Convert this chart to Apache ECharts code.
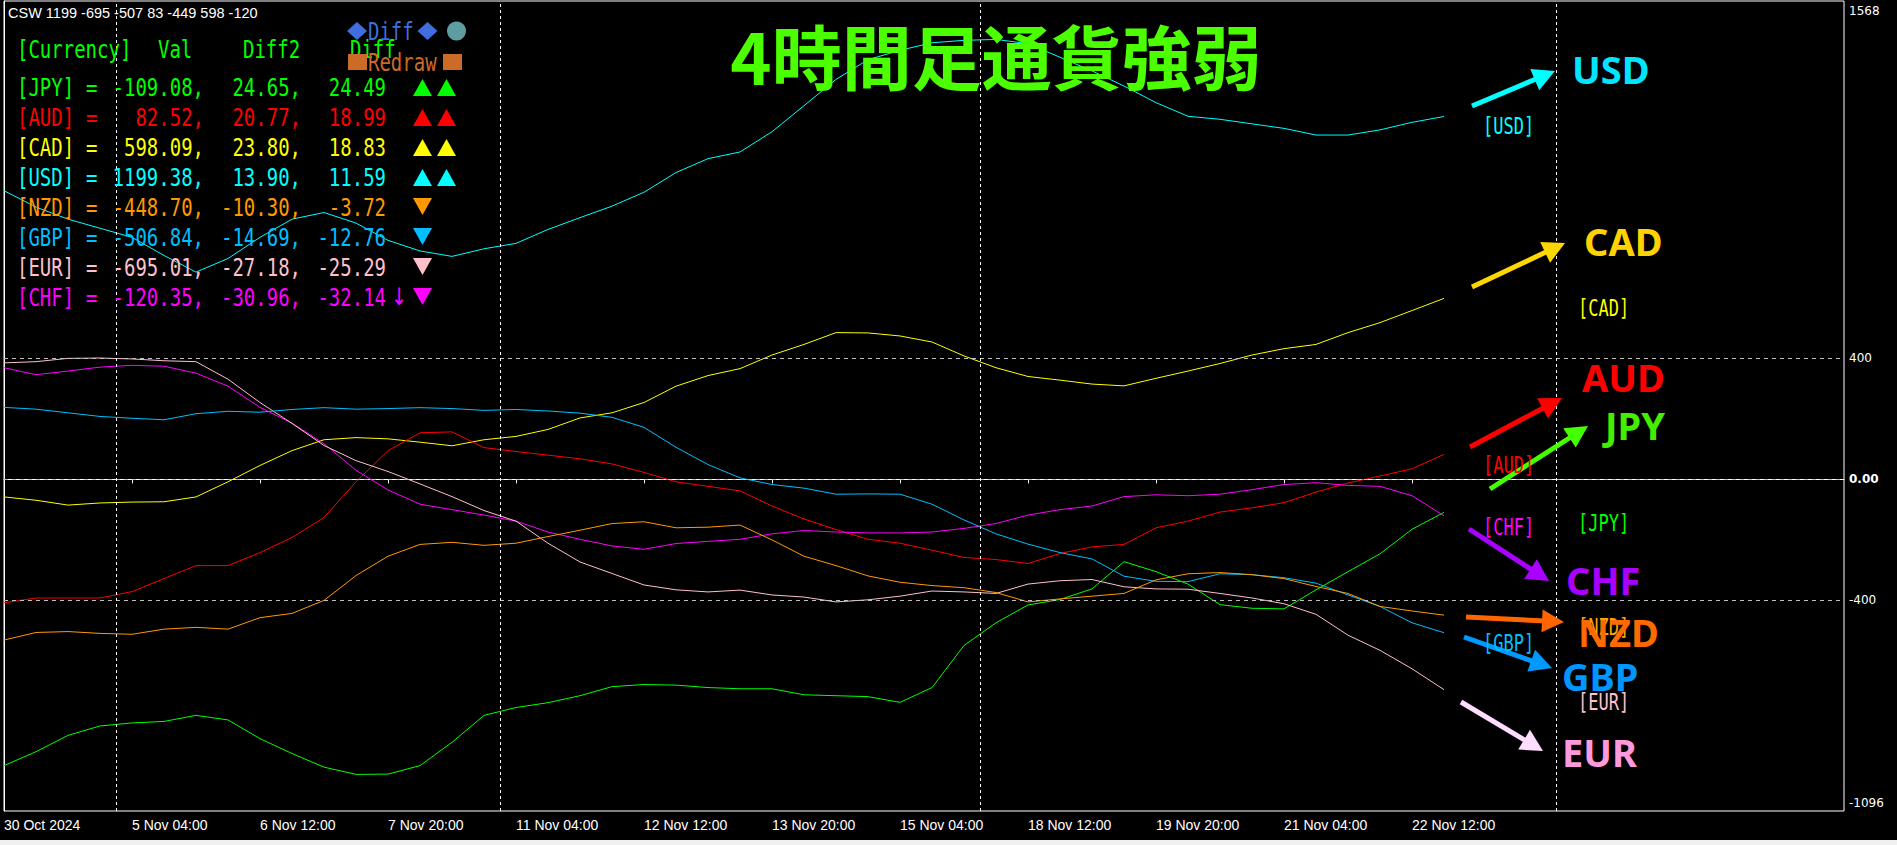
<!DOCTYPE html>
<html>
<head>
<meta charset="utf-8">
<title>4時間足通貨強弱</title>
<script src="https://cdn.jsdelivr.net/npm/echarts@6/dist/echarts.min.js"></script>
<style>
  html, body { margin: 0; padding: 0; background: #000; }
  #myChart { width: 1897px; height: 845px; }
</style>
</head>
<body>
<div id="myChart"></div>
<script>
// x軸ラベル (H4 足 8本ごと)
const tickLabels = ['30 Oct 2024', '5 Nov 04:00', '6 Nov 12:00', '7 Nov 20:00', '11 Nov 04:00', '12 Nov 12:00',
  '13 Nov 20:00', '15 Nov 04:00', '18 Nov 12:00', '19 Nov 20:00', '21 Nov 04:00', '22 Nov 12:00']
const yLabels = [1568, 400, 0, -400, -1096]
const barStep = 2 // 2本ごとに読み取った値

// 各通貨の強弱ライン
const usd = [954, 900, 860, 830, 800, 740, 685, 730, 800, 860, 882, 847, 790, 755, 737, 762, 780, 826, 865, 903,
  949, 1014, 1060, 1082, 1149, 1235, 1322, 1387, 1418, 1443, 1451, 1454, 1440, 1395, 1350, 1300, 1245, 1200,
  1190, 1175, 1160, 1138, 1138, 1155, 1180, 1199.38]
const cad = [-58, -69, -85, -78, -75, -74, -58, -8, 46, 95, 131, 138, 134, 123, 111, 131, 142, 165, 203, 220,
  254, 308, 343, 366, 411, 446, 485, 484, 474, 454, 408, 369, 340, 328, 315, 309, 334, 358, 383, 411, 432,
  446, 485, 518, 558, 598.09]
const aud = [-408, -392, -392, -392, -371, -328, -285, -285, -242, -192, -126, -8, 95, 154, 157, 105, 92, 80,
  68, 51, 23, -8, -23, -38, -88, -131, -166, -198, -211, -234, -258, -265, -278, -245, -223, -215, -160,
  -138, -108, -94, -77, -42, -12, 11, 35, 82.52]
const jpy = [-946, -900, -846, -815, -805, -800, -780, -795, -857, -906, -951, -975, -974, -946, -869, -780,
  -754, -738, -715, -685, -678, -680, -688, -692, -692, -712, -715, -718, -737, -688, -549, -474, -415,
  -397, -362, -272, -305, -346, -414, -426, -428, -365, -305, -246, -165, -109.08]
const chf = [369, 346, 358, 371, 377, 374, 351, 308, 238, 186, 118, 30, -35, -82, -100, -118, -138, -174, -198,
  -220, -231, -212, -205, -198, -180, -169, -174, -177, -177, -174, -162, -146, -118, -100, -88, -57, -51,
  -54, -49, -34, -17, -11, -20, -23, -54, -120.35]
const eur = [385, 389, 400, 401, 398, 392, 389, 331, 254, 185, 112, 62, 26, -15, -57, -103, -138, -211, -273,
  -311, -349, -365, -372, -366, -382, -389, -405, -398, -386, -369, -372, -377, -346, -335, -331, -355,
  -362, -363, -377, -392, -411, -446, -515, -565, -626, -695.01]
const gbp = [238, 232, 220, 208, 202, 197, 217, 225, 222, 231, 237, 232, 234, 237, 234, 228, 231, 226, 219, 205,
  172, 106, 49, 5, -17, -29, -49, -48, -49, -82, -134, -180, -214, -242, -263, -320, -337, -338, -312,
  -315, -325, -343, -382, -420, -474, -506.84]
const nzd = [-531, -506, -503, -509, -512, -495, -489, -495, -457, -443, -400, -318, -254, -215, -208, -218,
  -211, -189, -168, -146, -140, -160, -158, -151, -200, -254, -285, -319, -340, -351, -358, -374, -405,
  -395, -386, -377, -332, -312, -308, -315, -328, -354, -377, -420, -435, -448.70]

// 左上の一覧表
const rowNames = ['JPY', 'AUD', 'CAD', 'USD', 'NZD', 'GBP', 'EUR', 'CHF']
const rowVal = [-109.08, 82.52, 598.09, 1199.38, -448.70, -506.84, -695.01, -120.35]
const rowDiff2 = [24.65, 20.77, 23.80, 13.90, -10.30, -14.69, -27.18, -30.96]
const rowDiff = [24.49, 18.99, 18.83, 11.59, -3.72, -12.76, -25.29, -32.14]
const cswText = 'CSW 1199 -695 -507 83 -449 598 -120'

const colors = {
  JPY: '#00ff00', AUD: '#ff0000', CAD: '#ffff00', USD: '#00ffff',
  NZD: '#ff9900', GBP: '#00bfff', EUR: '#ffc0cb', CHF: '#ff00ff'
}
const lines = [
  { name: 'USD', data: usd }, { name: 'CAD', data: cad }, { name: 'AUD', data: aud }, { name: 'JPY', data: jpy },
  { name: 'CHF', data: chf }, { name: 'EUR', data: eur }, { name: 'GBP', data: gbp }, { name: 'NZD', data: nzd }
]

const MONO = '"DejaVu Sans Mono", monospace'
const tickIdx = tickLabels.map((s, k) => k * 8)

function label (x, y, text, color, font, align, sx) {
  return {
    type: 'text', x: x, y: y, scaleX: sx || 1, silent: true, z: 50,
    style: {
      text: text, fill: color, font: font,
      align: align || 'left', textAlign: align || 'left',
      verticalAlign: 'middle', textVerticalAlign: 'middle'
    }
  }
}

function arrow (a) {
  const dx = a.tip[0] - a.tail[0]
  const dy = a.tip[1] - a.tail[1]
  const len = Math.sqrt(dx * dx + dy * dy)
  const ux = dx / len
  const uy = dy / len
  const bx = a.tip[0] - ux * 22
  const by = a.tip[1] - uy * 22
  return [
    { type: 'line', silent: true, z: 40, shape: { x1: a.tail[0], y1: a.tail[1], x2: bx + ux * 4, y2: by + uy * 4 }, style: { stroke: a.color, lineWidth: 5 } },
    { type: 'polygon', silent: true, z: 40, shape: { points: [a.tip, [bx - uy * 11.5, by + ux * 11.5], [bx + uy * 11.5, by - ux * 11.5]] }, style: { fill: a.color } }
  ]
}

const graphic = []

// タイトル
graphic.push(label(996, 54, '4時間足通貨強弱', '#4cff00', 'bold 70px "Noto Sans CJK JP"', 'center'))
graphic.push(label(8, 13, cswText, '#ffffff', '14.5px "Liberation Sans", Arial', 'left'))

// 表ヘッダ
const tf = '25px ' + MONO
const sx = 0.76
graphic.push(label(17, 49, '[Currency]', '#00ff00', tf, 'left', sx))
graphic.push(label(158, 49, 'Val', '#00ff00', tf, 'left', sx))
graphic.push(label(243, 49, 'Diff2', '#00ff00', tf, 'left', sx))
graphic.push(label(350, 49, 'Diff', '#00ff00', tf, 'left', sx))
graphic.push({ type: 'polygon', silent: true, z: 50, shape: { points: [[357, 22], [367, 31], [357, 40], [347, 31]] }, style: { fill: '#3f6fdf' } })
graphic.push(label(368, 31, 'Diff', '#3f6fdf', tf, 'left', sx))
graphic.push({ type: 'polygon', silent: true, z: 50, shape: { points: [[427.5, 22], [437.5, 31], [427.5, 40], [417.5, 31]] }, style: { fill: '#3f6fdf' } })
graphic.push({ type: 'circle', silent: true, z: 50, shape: { cx: 456.5, cy: 31, r: 9.5 }, style: { fill: '#5f9ea0' } })
graphic.push({ type: 'rect', silent: true, z: 50, shape: { x: 348, y: 54, width: 19, height: 16 }, style: { fill: '#cc6a28' } })
graphic.push(label(368, 62, 'Redraw', '#cc6a28', tf, 'left', sx))
graphic.push({ type: 'rect', silent: true, z: 50, shape: { x: 443, y: 54, width: 19, height: 16 }, style: { fill: '#cc6a28' } })

// 表の各行
rowNames.forEach(function (n, k) {
  const y = 87 + 30 * k
  const c = colors[n]
  graphic.push(label(17, y, '[' + n + ']', c, tf, 'left', sx))
  graphic.push(label(86, y, '=', c, tf, 'left', sx))
  graphic.push(label(204, y, rowVal[k].toFixed(2) + ',', c, tf, 'right', sx))
  graphic.push(label(301, y, rowDiff2[k].toFixed(2) + ',', c, tf, 'right', sx))
  graphic.push(label(386, y, rowDiff[k].toFixed(2), c, tf, 'right', sx))
  if (rowDiff[k] < rowDiff2[k] && rowDiff[k] < -30) graphic.push(label(391, y, '↓', c, '24px "DejaVu Sans"', 'left', 0.8))
  const up = rowDiff2[k] > 0 && rowDiff[k] > 0
  const marks = up ? [413, 437] : [413]
  marks.forEach(function (x) {
    const pts = up
      ? [[x, y + 9], [x + 19, y + 9], [x + 9.5, y - 8]]
      : [[x, y - 9], [x + 19, y - 9], [x + 9.5, y + 8]]
    graphic.push({ type: 'polygon', silent: true, z: 50, shape: { points: pts }, style: { fill: c } })
  })
})

// 右側の矢印と通貨名
const arrowList = [
  { color: '#00ffff', tail: [1472, 106], tip: [1555, 71] },
  { color: '#ffd700', tail: [1472, 287], tip: [1565, 243] },
  { color: '#ff0000', tail: [1470, 447], tip: [1562, 398] },
  { color: '#44ff00', tail: [1490, 489], tip: [1588, 426] },
  { color: '#aa00ff', tail: [1469, 529], tip: [1549, 581] },
  { color: '#ff6600', tail: [1466, 617], tip: [1564, 622] },
  { color: '#0099ff', tail: [1464, 637], tip: [1552, 668] },
  { color: '#ffddff', tail: [1461, 702], tip: [1543, 751] }
]
const tagList = [
  { text: '[USD]', color: colors.USD, x: 1483, y: 126 },
  { text: '[CAD]', color: colors.CAD, x: 1578, y: 308 },
  { text: '[AUD]', color: colors.AUD, x: 1483, y: 465 },
  { text: '[JPY]', color: colors.JPY, x: 1578, y: 523 },
  { text: '[CHF]', color: colors.CHF, x: 1483, y: 527 },
  { text: '[NZD]', color: '#ffa500', x: 1578, y: 627 },
  { text: '[GBP]', color: colors.GBP, x: 1483, y: 643 },
  { text: '[EUR]', color: colors.EUR, x: 1578, y: 702 }
]
const bigList = [
  { text: 'USD', color: '#00e5ff', x: 1572, y: 69 },
  { text: 'CAD', color: '#ffd200', x: 1584, y: 241 },
  { text: 'AUD', color: '#ff0000', x: 1582, y: 377 },
  { text: 'JPY', color: '#44ee00', x: 1605, y: 425 },
  { text: 'CHF', color: '#aa00ff', x: 1566, y: 580 },
  { text: 'NZD', color: '#ff6a00', x: 1578, y: 632 },
  { text: 'GBP', color: '#0096ff', x: 1562, y: 676 },
  { text: 'EUR', color: '#ff99dd', x: 1562, y: 752 }
]
tagList.forEach(function (t) { graphic.push(label(t.x, t.y, t.text, t.color, '23px ' + MONO, 'left', 0.74)) })
arrowList.forEach(function (a) { arrow(a).forEach(function (g) { graphic.push(g) }) })
bigList.forEach(function (t) { graphic.push(label(t.x, t.y, t.text, t.color, 'bold 38px "Noto Sans", sans-serif', 'left')) })

// 下のタブバー
graphic.push({ type: 'rect', silent: true, z: 1, shape: { x: 0, y: 840, width: 1897, height: 5 }, style: { fill: '#f0f0f0' } })

const myChart = echarts.init(document.getElementById('myChart'), null, { renderer: 'svg' })
myChart.setOption({
  backgroundColor: '#000',
  animation: false,
  grid: { left: 4, right: 53, top: 1, bottom: 34, show: true, borderColor: '#ffffff', borderWidth: 1, backgroundColor: 'transparent' },
  xAxis: {
    type: 'value', min: 0, max: 115,
    axisLine: { show: true, lineStyle: { color: '#ffffff' } },
    axisTick: { show: true, customValues: tickIdx, length: 4, lineStyle: { color: '#ffffff' } },
    axisLabel: {
      customValues: tickIdx,
      formatter: function (v) { return tickLabels[Math.round(v / 8)] || '' },
      align: 'left', color: '#ffffff', fontFamily: '"Liberation Sans", Arial', fontSize: 14, margin: 7
    },
    splitLine: { show: false }
  },
  yAxis: {
    type: 'value', position: 'right', min: -1096, max: 1581,
    axisLine: { show: true, lineStyle: { color: '#ffffff' } },
    axisTick: { show: false },
    axisLabel: {
      customValues: yLabels,
      formatter: function (v) {
        if (v === yLabels[0]) return '{t|' + v + '}'
        if (v === yLabels[4]) return '{b|' + v + '}'
        if (v === 0) return '{z|0.00}'
        return String(v)
      },
      color: '#ffffff', fontFamily: '"DejaVu Sans"', fontSize: 12, margin: 5,
      rich: {
        t: { color: '#ffffff', fontFamily: '"DejaVu Sans"', fontSize: 12, padding: [12, 0, 0, 0] },
        b: { color: '#ffffff', fontFamily: '"DejaVu Sans"', fontSize: 12, padding: [0, 0, 16, 0] },
        z: { color: '#ffffff', fontFamily: '"DejaVu Sans"', fontSize: 12, fontWeight: 'bold' }
      }
    },
    splitLine: { show: false }
  },
  series: lines.map(function (s, k) {
    const ser = {
      name: s.name,
      type: 'line',
      data: s.data.map(function (v, i) { return [i * barStep, v] }),
      showSymbol: false,
      symbol: 'none',
      silent: true,
      lineStyle: { color: colors[s.name], width: 1 },
      z: 3
    }
    if (k === 0) {
      // レベル線と区切り線
      ser.markLine = {
        silent: true,
        symbol: ['none', 'none'],
        label: { show: false },
        lineStyle: { color: '#c0c0c0', type: [4, 4], width: 1 },
        data: [
          { yAxis: 400 }, { yAxis: 0 }, { yAxis: -400 },
          { xAxis: 7, lineStyle: { color: '#ffffff', type: [3, 3] } },
          { xAxis: 31, lineStyle: { color: '#ffffff', type: [3, 3] } },
          { xAxis: 61, lineStyle: { color: '#ffffff', type: [3, 3] } },
          { xAxis: 97, lineStyle: { color: '#ffffff', type: [3, 3] } }
        ]
      }
    }
    return ser
  }),
  graphic: graphic
})
</script>
</body>
</html>
